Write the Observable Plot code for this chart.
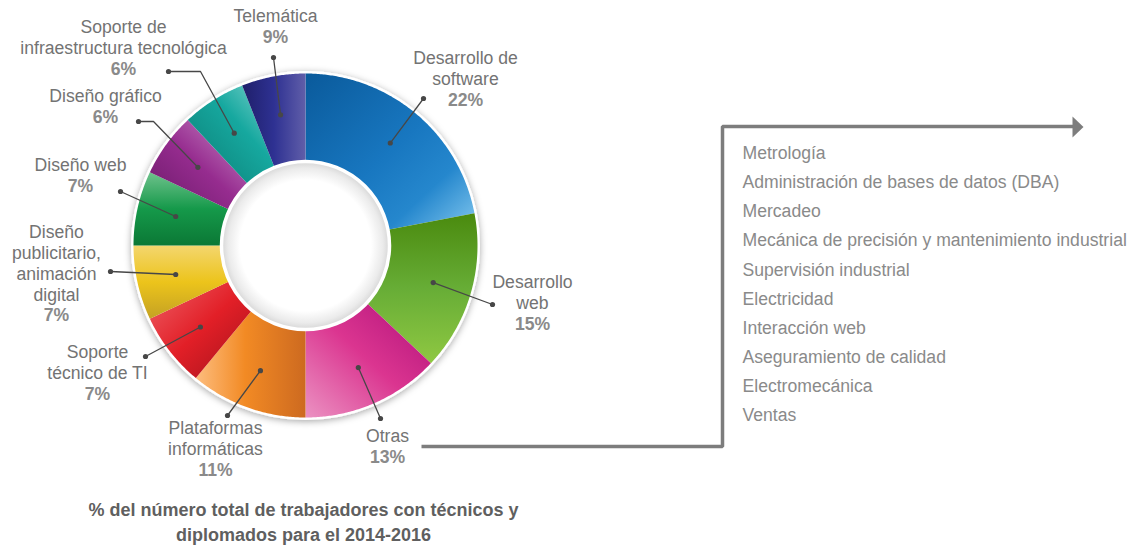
<!DOCTYPE html>
<html>
<head>
<meta charset="utf-8">
<script src="https://cdn.jsdelivr.net/npm/d3@7"></script>
<script src="https://cdn.jsdelivr.net/npm/@observablehq/plot@0.6"></script>
<style>
  html, body { margin: 0; padding: 0; background: #fff; }
  #chart svg { display: block; }
</style>
</head>
<body>
<div id="chart"></div>
<script>
// ---------- DATA ----------
const categories = [
  "Desarrollo de software", "Desarrollo web", "Otras", "Plataformas informáticas",
  "Soporte técnico de TI", "Diseño publicitario, animación digital", "Diseño web",
  "Diseño gráfico", "Soporte de infraestructura tecnológica", "Telemática"
];
const shares = [22, 15, 13, 11, 7, 7, 7, 6, 6, 9];
const labelLines = [
  ["Desarrollo de", "software"],
  ["Desarrollo", "web"],
  ["Otras"],
  ["Plataformas", "informáticas"],
  ["Soporte", "técnico de TI"],
  ["Diseño", "publicitario,", "animación", "digital"],
  ["Diseño web"],
  ["Diseño gráfico"],
  ["Soporte de", "infraestructura tecnológica"],
  ["Telemática"]
];
const otherAreas = [
  "Metrología", "Administración de bases de datos (DBA)", "Mercadeo",
  "Mecánica de precisión y mantenimiento industrial", "Supervisión industrial",
  "Electricidad", "Interacción web", "Aseguramiento de calidad",
  "Electromecánica", "Ventas"
];
const captionLines = [
  "% del número total de trabajadores con técnicos y",
  "diplomados para el 2014-2016"
];

// ---------- STYLE / LAYOUT ----------
const W = 1140, H = 548;
const cx = 305, cy = 245, R = 172, r0 = 84;
const gradients = [
  {x1:0, y1:0, x2:1, y2:1, stops:[[0,"#0a5a9b"],[0.5,"#1877c0"],[0.74,"#2587cd"],[1,"#80c6ee"]]},
  {x1:0, y1:0, x2:0, y2:1, stops:[[0,"#4a8a0e"],[0.5,"#67ad36"],[1,"#8fc842"]]},
  {x1:1, y1:0, x2:0, y2:1, stops:[[0,"#b0117a"],[0.5,"#db3590"],[1,"#eb92c2"]]},
  {x1:0, y1:0, x2:1, y2:0, stops:[[0,"#fdbd7e"],[0.45,"#f28a24"],[1,"#cd6a20"]]},
  {x1:0, y1:0, x2:1, y2:1, stops:[[0,"#ee6168"],[0.5,"#e21f27"],[1,"#a2121b"]]},
  {x1:0, y1:0, x2:0, y2:1, stops:[[0,"#f4d66e"],[0.5,"#ecc41b"],[1,"#c4a124"]]},
  {x1:0, y1:0, x2:0, y2:1, stops:[[0,"#6fc28c"],[0.5,"#15994a"],[1,"#0b7835"]]},
  {x1:1, y1:0, x2:0, y2:1, stops:[[0,"#cc8fca"],[0.5,"#962c8f"],[1,"#6a1968"]]},
  {x1:0, y1:1, x2:1, y2:0, stops:[[0,"#0b7b72"],[0.6,"#16a89f"],[1,"#82d4cf"]]},
  {x1:0, y1:0, x2:1, y2:0, stops:[[0,"#1f1f6a"],[0.5,"#2e3192"],[1,"#605ea9"]]}
];
// label block: x centre, y of first line centre, outer leader dot, optional elbow
const labelLayout = [
  {x:465, y:58,  dot:[423,98]},
  {x:532, y:282, dot:[492,304]},
  {x:387, y:436, dot:[380,418]},
  {x:215, y:428, dot:[227,415]},
  {x:97,  y:352, dot:[145,356]},
  {x:56,  y:232, dot:[110,271]},
  {x:80,  y:165, dot:[120,191]},
  {x:105, y:96,  dot:[138,121], elbow:[153,121]},
  {x:123, y:27,  dot:[168,71],  elbow:[200,71]},
  {x:275, y:16,  dot:[273,57]}
];
const lineStep = 20.8;
const labelColor = "#737373", pctColor = "#8a8a8a", leaderColor = "#474747";
const fontFamily = "'Liberation Sans', Arial, Helvetica, sans-serif";
const labelSize = 17.6, listSize = 17.6, captionSize = 18;

// ---------- GEOMETRY FROM DATA ----------
const rad = d => d * Math.PI / 180;
const pt = (angDeg, r) => ({x: cx + r * Math.sin(rad(angDeg)), y: cy - r * Math.cos(rad(angDeg))});
let cum = 0;
const slices = shares.map((v, i) => {
  const a0 = cum * 3.6;
  const a1 = Math.min(360, (cum + v) * 3.6);
  cum += v;
  const n = Math.max(2, Math.ceil((a1 - a0) / 0.5));
  const pts = [];
  for (let k = 0; k <= n; k++) pts.push(pt(a0 + (a1 - a0) * k / n, R));
  for (let k = n; k >= 0; k--) pts.push(pt(a0 + (a1 - a0) * k / n, r0));
  return {i, name: categories[i], value: v, a0, a1, mid: (a0 + a1) / 2, pts};
});

const leaderPts = [], leaderDots = [];
slices.forEach((s, i) => {
  const L = labelLayout[i];
  const inner = pt(s.mid, 133);
  const seq = [{x: L.dot[0], y: L.dot[1]}];
  if (L.elbow) seq.push({x: L.elbow[0], y: L.elbow[1]});
  seq.push(inner);
  seq.forEach(p => leaderPts.push({...p, k: i}));
  leaderDots.push({x: L.dot[0], y: L.dot[1]}, inner);
});

const labelText = [], pctText = [];
labelLines.forEach((lines, i) => {
  const L = labelLayout[i];
  lines.forEach((t, j) => labelText.push({x: L.x, y: L.y + j * lineStep, t}));
  pctText.push({x: L.x, y: L.y + lines.length * lineStep, t: shares[i] + "%"});
});

const listText = otherAreas.map((t, i) => ({x: 742, y: 153 + i * 29.1, t}));
const capText = captionLines.map((t, i) => ({x: 303, y: 510 + i * 25, t}));

const connector = [{x:421, y:446}, {x:722, y:446}, {x:722, y:126}, {x:1073, y:126}];
const arrowHead = [{x:1072, y:116}, {x:1083, y:126.5}, {x:1072, y:137}];

// ---------- PLOT ----------
const marks = [
  Plot.dot([{x: cx, y: cy}], {x: "x", y: "y", r: R + 2.5, fill: "white", stroke: "none", ariaDescription: "outer-ring"}),
  ...slices.map(s => Plot.line(s.pts, {x: "x", y: "y", fill: `url(#slice${s.i})`, stroke: "none", ariaDescription: `slice-${s.i}`})),
  Plot.dot([{x: cx, y: cy}], {x: "x", y: "y", r: r0, fill: "url(#holeGrad)", stroke: "white", strokeWidth: 3.5}),
  Plot.line(leaderPts, {x: "x", y: "y", z: "k", stroke: leaderColor, strokeWidth: 1.3}),
  Plot.dot(leaderDots, {x: "x", y: "y", r: 2.6, fill: leaderColor, stroke: "none"}),
  Plot.text(labelText, {x: "x", y: "y", text: "t", fill: labelColor, fontSize: labelSize}),
  Plot.text(pctText, {x: "x", y: "y", text: "t", fill: pctColor, fontSize: labelSize, fontWeight: "bold"}),
  Plot.line(connector, {x: "x", y: "y", stroke: "#7d7d7d", strokeWidth: 3.5, strokeLinejoin: "miter", strokeLinecap: "butt"}),
  Plot.line(arrowHead, {x: "x", y: "y", fill: "#7d7d7d", stroke: "none"}),
  Plot.text(listText, {x: "x", y: "y", text: "t", textAnchor: "start", fill: "#8a8a8a", fontSize: listSize}),
  Plot.text(capText, {x: "x", y: "y", text: "t", fill: "#5f5f5f", fontSize: captionSize, fontWeight: "bold"})
];

const svg = Plot.plot({
  width: W, height: H, margin: 0,
  x: {domain: [0, W], range: [0, W], axis: null},
  y: {domain: [0, H], range: [0, H], axis: null},
  style: {fontFamily, background: "white", overflow: "visible"},
  marks
});

// gradients & shadow definitions
const root = d3.select(svg);
const defs = root.insert("defs", ":first-child");
gradients.forEach((g, i) => {
  const lg = defs.append("linearGradient").attr("id", `slice${i}`)
    .attr("x1", g.x1).attr("y1", g.y1).attr("x2", g.x2).attr("y2", g.y2);
  g.stops.forEach(([o, c]) => lg.append("stop").attr("offset", o).attr("stop-color", c));
});
const rg = defs.append("radialGradient").attr("id", "holeGrad");
[[0, "#ffffff"], [0.78, "#ffffff"], [0.92, "#ebebeb"], [1, "#d6d6d6"]]
  .forEach(([o, c]) => rg.append("stop").attr("offset", o).attr("stop-color", c));
const f = defs.append("filter").attr("id", "shadow").attr("x", "-20%").attr("y", "-20%").attr("width", "140%").attr("height", "140%");
f.append("feDropShadow").attr("dx", 0).attr("dy", 1.5).attr("stdDeviation", 3.5)
  .attr("flood-color", "#000").attr("flood-opacity", 0.35);
root.select('[aria-description="outer-ring"]').attr("filter", "url(#shadow)");
slices.forEach(s => root.selectAll(`[aria-description="slice-${s.i}"] path`).attr("fill", `url(#slice${s.i})`));

document.getElementById("chart").appendChild(svg);
</script>
</body>
</html>
